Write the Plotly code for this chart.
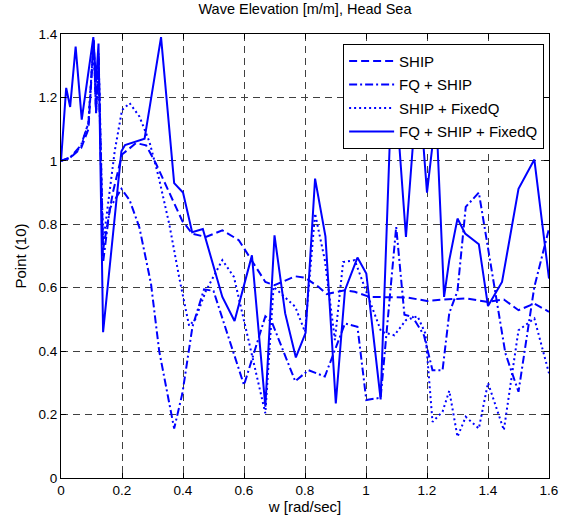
import plotly.graph_objects as go

# ---------------- data ----------------
ship_x = [0, 0.03, 0.066, 0.09, 0.107, 0.115, 0.123, 0.138, 0.17, 0.2, 0.246, 0.279, 0.312,
          0.398, 0.431, 0.475, 0.529, 0.583, 0.67, 0.70, 0.768, 0.80, 0.844, 0.871, 0.931,
          0.963, 1.012, 1.137, 1.2, 1.256, 1.332, 1.40, 1.452, 1.50, 1.552, 1.60]
ship_y = [1.0, 1.01, 1.04, 1.1, 1.38, 1.15, 1.33, 0.72, 0.9, 1.02, 1.056, 1.049, 0.99,
          0.81, 0.77, 0.76, 0.781, 0.75, 0.618, 0.608, 0.636, 0.632, 0.603, 0.58, 0.592,
          0.587, 0.571, 0.569, 0.558, 0.563, 0.566, 0.555, 0.563, 0.529, 0.55, 0.524]

fq_ship_x = [0, 0.03, 0.066, 0.09, 0.107, 0.115, 0.123, 0.138, 0.16, 0.198, 0.225, 0.257,
             0.295, 0.322, 0.371, 0.398, 0.431, 0.469, 0.50, 0.60, 0.67, 0.692, 0.768,
             0.811, 0.865, 0.931, 0.972, 1.001, 1.048, 1.099, 1.126, 1.153, 1.19, 1.218,
             1.251, 1.273, 1.30, 1.327, 1.37, 1.457, 1.50, 1.552, 1.60]
fq_ship_y = [1.0, 1.01, 1.05, 1.12, 1.38, 1.15, 1.32, 0.68, 0.85, 0.912, 0.876, 0.79,
             0.613, 0.40, 0.156, 0.267, 0.477, 0.595, 0.59, 0.293, 0.51, 0.49, 0.305,
             0.34, 0.32, 0.487, 0.477, 0.246, 0.253, 0.792, 0.515, 0.508, 0.45, 0.34,
             0.34, 0.52, 0.59, 0.855, 0.90, 0.393, 0.272, 0.603, 0.786]

ship_fixq_x = [0, 0.03, 0.066, 0.09, 0.107, 0.115, 0.123, 0.138, 0.176, 0.2, 0.225, 0.257,
               0.29, 0.32, 0.355, 0.388, 0.42, 0.44, 0.475, 0.529, 0.567, 0.67, 0.697,
               0.768, 0.80, 0.833, 0.865, 0.898, 0.925, 0.963, 1.0, 1.05, 1.093, 1.131,
               1.169, 1.195, 1.218, 1.251, 1.273, 1.30, 1.327, 1.37, 1.40, 1.452, 1.50,
               1.552, 1.60]
ship_fixq_y = [1.0, 1.01, 1.045, 1.12, 1.38, 1.16, 1.34, 0.74, 1.03, 1.16, 1.182, 1.14,
               1.06, 0.95, 0.80, 0.63, 0.48, 0.5, 0.59, 0.687, 0.634, 0.204, 0.603,
               0.54, 0.461, 0.834, 0.687, 0.435, 0.681, 0.687, 0.59, 0.461, 0.45, 0.498,
               0.51, 0.455, 0.177, 0.209, 0.275, 0.13, 0.193, 0.156, 0.30, 0.151, 0.466,
               0.503, 0.33]

all_x = [0, 0.017, 0.03, 0.048, 0.068, 0.106, 0.115, 0.123, 0.138, 0.198, 0.21, 0.274,
         0.328, 0.371, 0.40, 0.43, 0.465, 0.529, 0.569, 0.626, 0.670, 0.700, 0.735, 0.770,
         0.802, 0.833, 0.867, 0.901, 0.931, 0.972, 1.001, 1.048, 1.088, 1.131, 1.171, 1.2,
         1.23, 1.256, 1.273, 1.30, 1.325, 1.37, 1.40, 1.446, 1.50, 1.552, 1.60]
all_y = [1.0, 1.23, 1.17, 1.36, 1.13, 1.39, 1.25, 1.37, 0.46, 1.03, 1.05, 1.07,
         1.39, 0.93, 0.90, 0.775, 0.785, 0.571, 0.495, 0.702, 0.225, 0.765, 0.519, 0.38,
         0.458, 0.944, 0.762, 0.235, 0.592, 0.695, 0.645, 0.248, 1.33, 0.76, 1.27, 0.90,
         1.15, 0.571, 0.687, 0.818, 0.771, 0.737, 0.542, 0.618, 0.912, 1.004, 0.629]

series_names = ["SHIP", "FQ + SHIP", "SHIP + FixedQ", "FQ + SHIP + FixedQ"]
x_ticks = [0, 0.2, 0.4, 0.6, 0.8, 1.0, 1.2, 1.4, 1.6]
x_ticklabels = ["0", "0.2", "0.4", "0.6", "0.8", "1", "1.2", "1.4", "1.6"]
y_ticks = [0, 0.2, 0.4, 0.6, 0.8, 1.0, 1.2, 1.4]
y_ticklabels = ["0", "0.2", "0.4", "0.6", "0.8", "1", "1.2", "1.4"]

# ---------------- figure ----------------
BLUE = "#0000FF"
styles = ["8px,4px", "8px,3px,2px,3px", "2px,3px", "solid"]
xs = [ship_x, fq_ship_x, ship_fixq_x, all_x]
ys = [ship_y, fq_ship_y, ship_fixq_y, all_y]

fig = go.Figure()
for name, x, y, d in zip(series_names, xs, ys, styles):
    fig.add_trace(go.Scatter(x=x, y=y, mode="lines", name=name, legendgroup=name,
                             line=dict(color=BLUE, width=2, dash=d)))

FONT = "Liberation Sans, Arial, sans-serif"
axis_common = dict(showline=True, linecolor="black", linewidth=1, mirror="ticks",
                   ticks="inside", ticklen=5, tickcolor="black",
                   showgrid=True, gridcolor="#404040", gridwidth=1, griddash="7px,5px",
                   zeroline=False, tickfont=dict(family=FONT, size=13.5, color="black"))

fig.update_layout(
    width=570, height=529,
    margin=dict(l=61, r=17, t=34, b=51),
    paper_bgcolor="white", plot_bgcolor="white",
    font=dict(family=FONT, color="black"),
    title=dict(text="Wave Elevation [m/m], Head Sea", x=0.535, xanchor="center",
               y=0.992, yanchor="top", font=dict(family=FONT, size=14.5, color="black")),
    xaxis=dict(range=[0, 1.6], tickvals=x_ticks, ticktext=x_ticklabels,
               title=dict(text="w [rad/sec]", font=dict(family=FONT, size=15), standoff=0),
               **axis_common),
    yaxis=dict(range=[0, 1.4], tickvals=y_ticks, ticktext=y_ticklabels,
               title=dict(text="Point (10)", font=dict(family=FONT, size=15), standoff=8),
               **axis_common),
    legend=dict(x=0.99, y=0.978, xanchor="right", yanchor="top",
                bgcolor="white", bordercolor="black", borderwidth=1,
                font=dict(family=FONT, size=15, color="black"),
                itemwidth=45, tracegroupgap=1),
    showlegend=True,
)

fig.write_html("out.html")
